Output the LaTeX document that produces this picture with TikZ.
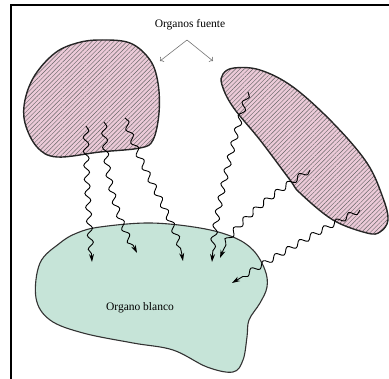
\documentclass[tikz,border=0pt]{standalone}
\usepackage{fontspec}
\setmainfont{Liberation Serif}
\usetikzlibrary{arrows.meta,decorations.pathmorphing,patterns.meta}
\definecolor{fuentepink}{HTML}{ECCAD8}
\definecolor{blancogreen}{HTML}{C6E4D8}

\begin{document}
\begin{tikzpicture}[x=1pt,y=-1pt,
  organ/.style={line width=1.4pt,draw=black!85},
  hatched/.style={organ,preaction={fill=fuentepink},
    pattern={Lines[angle=45,distance=3.1pt,line width=.45pt]},pattern color=black!60},
  rayo/.style={line width=.9pt,-{Stealth[length=8pt,width=5pt]},decorate,
    decoration={snake,amplitude=2.8pt,segment length=14pt,post length=8pt}},
  pointer/.style={black!55,line width=.6pt,-{To[length=3pt]}},
  label/.style={font=\fontsize{11.5}{13}\selectfont}]
  \useasboundingbox (0,0) rectangle (389,379);
  \draw[line width=2pt] (10.5,379) -- (10.5,5.5) -- (389,5.5);

  % target organ
  \draw[line width=1.1pt,draw=black!80,fill=blancogreen] plot[smooth cycle,tension=.6] coordinates
    {(100,227) (150,223) (200,228) (233,237) (253,250) (265,270) (267,287) (260,303)
     (249,320) (247,337) (243,360) (233,372) (207,367) (173,350) (133,343) (83,333)
     (50,320) (36,298) (40,263) (60,243) (77,233)};
  % source organs
  \draw[hatched] plot[smooth cycle,tension=.6] coordinates
    {(100,40) (130,43) (150,60) (158,83) (159,113) (153,140) (140,148) (100,152)
     (57,157) (37,147) (25,123) (25,100) (35,75) (55,53) (77,43)};
  \draw[hatched] plot[smooth cycle,tension=.6] coordinates
    {(223,74) (234,68) (260,70) (293,87) (333,123) (367,163) (383,198) (388,220)
     (380,232) (367,233) (333,220) (300,193) (290,180) (260,140) (233,107) (222,85)};

  \node[label] (fuente) at (190,25) {Organos fuente};
  \node[label] (blanco) at (140,308) {Organo blanco};
  \coordinate (apex) at (187,40);
  \coordinate (izq) at (160,61);
  \coordinate (der) at (213,61);
  \draw[pointer] (apex) -- (izq);
  \draw[pointer] (apex) -- (der);

  % radiation paths
  \coordinate (s1) at (86,126);  \coordinate (t1) at (92,262);
  \coordinate (s2) at (104,122); \coordinate (t2) at (137,253);
  \coordinate (s3) at (125,118); \coordinate (t3) at (183,261);
  \coordinate (s4) at (248,92);  \coordinate (t4) at (212,262);
  \coordinate (s5) at (310,170); \coordinate (t5) at (220,258);
  \coordinate (s6) at (360,210); \coordinate (t6) at (232,283);
  \draw[rayo] (s1) .. controls +(0,50) and +(-3,-50) .. (t1);
  \draw[rayo] (s2) .. controls +(2,60) and +(-20,-40) .. (t2);
  \draw[rayo] (s3) .. controls +(15,50) and +(-5,-40) .. (t3);
  \draw[rayo] (s4) .. controls +(-15,50) and +(3,-50) .. (t4);
  \draw[rayo] (s5) .. controls +(-40,25) and +(10,-30) .. (t5);
  \draw[rayo] (s6) .. controls +(-40,20) and +(25,-15) .. (t6);
\end{tikzpicture}
\end{document}
